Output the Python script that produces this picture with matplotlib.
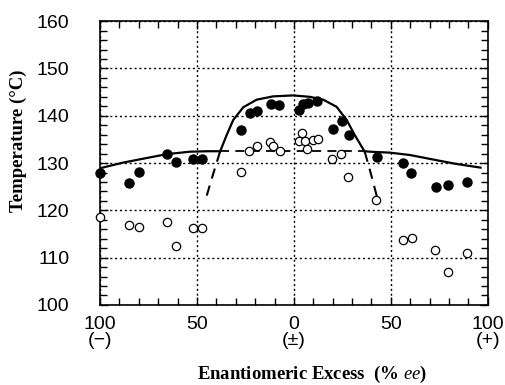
import matplotlib
matplotlib.use("Agg")
import matplotlib.pyplot as plt
from matplotlib.ticker import MultipleLocator

plt.rcParams["mathtext.fontset"] = "custom"
plt.rcParams["mathtext.it"] = "Liberation Serif:italic"
plt.rcParams["mathtext.rm"] = "Liberation Serif"
plt.rcParams["mathtext.bf"] = "Liberation Serif:bold"

# measured points (x = ee, negative side is (-) enantiomer)
filled_x = [-100, -84.9, -79.7, -65.3, -60.8, -52.2, -47.4, -27.5, -22.7, -19.2, -11.7, -7.6,
            2.4, 4.8, 7.4, 12.0, 19.9, 24.6, 28.4, 42.6, 56.3, 60.5, 73.2, 79.4, 89.3]
filled_y = [127.9, 125.8, 128.1, 131.9, 130.3, 130.8, 130.8, 137.0, 140.5, 141.0, 142.5, 142.3,
            141.3, 142.5, 142.6, 143.2, 137.1, 138.9, 135.9, 131.2, 130.0, 127.9, 125.0, 125.4, 125.9]

open_x = [-100, -84.9, -79.7, -65.3, -60.8, -52.2, -47.4, -27.5, -23.0, -19.2, -12.4, -10.7, -7.2,
          2.4, 4.1, 5.7, 6.9, 9.9, 12.5, 19.6, 24.1, 28.0, 42.3, 56.3, 60.7, 73.0, 79.4, 89.3]
open_y = [118.6, 116.8, 116.4, 117.6, 112.4, 116.3, 116.3, 128.1, 132.5, 133.7, 134.5, 133.6, 132.5,
          134.7, 136.4, 134.7, 132.9, 134.8, 135.0, 130.9, 131.9, 127.0, 122.2, 113.7, 114.2, 111.6, 107.0, 110.9]

# curves
left_x = [-100, -88, -74.2, -65.3, -53.6, -44.2, -38]
left_y = [128.9, 130.1, 131.2, 131.9, 132.4, 132.5, 132.5]
right_x = [36.5, 39.2, 49.5, 59.8, 73.6, 83.9, 96.8]
right_y = [132.5, 132.4, 132.2, 131.7, 130.6, 129.8, 129.0]
dome_x = [-38.1, -34.7, -31.3, -26.1, -19.2, -10.7, -0.4, 8.2, 15.1, 22.0, 27.2, 31.4, 36.5]
dome_y = [132.4, 135.9, 139.1, 141.8, 143.4, 144.1, 144.3, 144.0, 143.4, 141.9, 139.1, 135.9, 132.4]
dashl_x = [-38.1, -42.0, -45.9]
dashl_y = [132.4, 127.2, 121.8]
dashr_x = [36.5, 39.8, 43.0]
dashr_y = [132.4, 127.6, 122.6]
eut_x = [-38.1, 36.5]
eut_y = [132.5, 132.5]

xticks = [-100, -50, 0, 50, 100]
xticklabels = ["100\n(\u2212)", "50", "0\n(\u00b1)", "50", "100\n(+)"]
yticks = [100, 110, 120, 130, 140, 150, 160]

fig = plt.figure(figsize=(5.05, 3.85), dpi=100)
ax = fig.add_axes([0.198, 0.208, 0.768, 0.737])

ax.plot(left_x, left_y, color="black", lw=1.6, solid_capstyle="butt")
ax.plot(right_x, right_y, color="black", lw=1.6, solid_capstyle="butt")
ax.plot(dome_x, dome_y, color="black", lw=1.6)
ax.plot(dashl_x, dashl_y, color="black", lw=1.5, dashes=(5, 3.5))
ax.plot(dashr_x, dashr_y, color="black", lw=1.5, dashes=(5, 3.5))
ax.plot(eut_x, eut_y, color="black", lw=1.3, dashes=(5, 3.5))

ax.plot(filled_x, filled_y, "o", color="black", ms=6.5, clip_on=False, zorder=5)
ax.plot(open_x, open_y, "o", mfc="white", mec="black", mew=0.9, ms=6, clip_on=False, zorder=5)

ax.set_xlim(-100, 100)
ax.set_ylim(100, 160)
ax.set_xticks(xticks)
ax.set_xticklabels(xticklabels, fontfamily="Liberation Sans", fontsize=14, linespacing=0.95)
ax.set_yticks(yticks)
ax.set_yticklabels([str(v) for v in yticks], fontfamily="Liberation Sans", fontsize=14)
ax.xaxis.set_minor_locator(MultipleLocator(10))
ax.yaxis.set_minor_locator(MultipleLocator(2))
ax.tick_params(which="both", direction="in", top=True, right=True, width=1)
ax.tick_params(which="major", length=6)
ax.tick_params(which="minor", length=5)
ax.tick_params(axis="x", which="major", pad=8)
ax.tick_params(axis="y", which="major", pad=22)
ax.grid(True, which="major", color="black", linestyle=(0, (1.5, 2)), lw=1)
for s in ax.spines.values():
    s.set_linewidth(1.2)

ax.set_ylabel("Temperature (\u00b0C)", fontfamily="Liberation Serif", fontweight="bold", fontsize=13.5)
ax.yaxis.set_label_coords(-0.188, 0.58)
ax.set_xlabel(r"Enantiomeric Excess  (% $\it{ee}$)", fontfamily="Liberation Serif",
              fontweight="bold", fontsize=13.5)
ax.xaxis.set_label_coords(0.547, -0.208)

fig.savefig("out.png", dpi=100)
